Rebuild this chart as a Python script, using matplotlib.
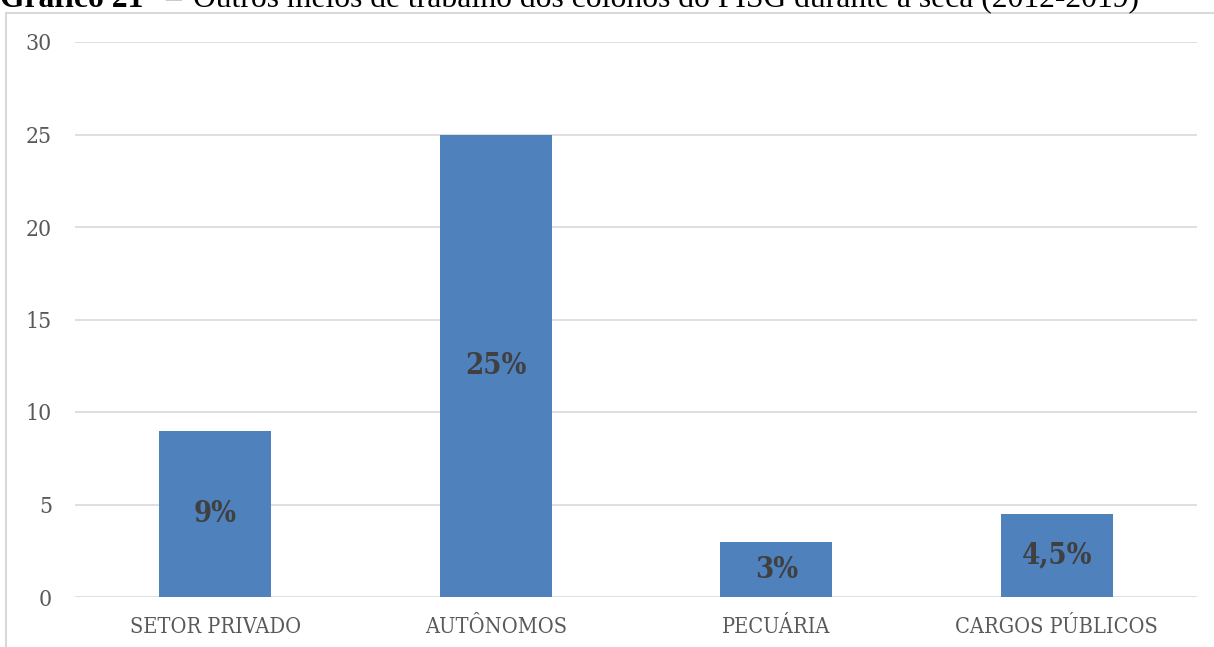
import matplotlib
matplotlib.use("Agg")
import matplotlib.pyplot as plt
from matplotlib.patches import Rectangle
from matplotlib import font_manager as fm

categories = ["SETOR PRIVADO", "AUTÔNOMOS", "PECUÁRIA", "CARGOS PÚBLICOS"]
values = [9, 25, 3, 4.5]
labels = ["9%", "25%", "3%", "4,5%"]
yticks = [0, 5, 10, 15, 20, 25, 30]


def cond_font(bold):
    for f in fm.fontManager.ttflist:
        if (f.name.startswith("DejaVu Serif") and "Condensed" in f.fname
                and f.style == "normal"
                and (("Bold" in f.fname) == bold)):
            return fm.FontProperties(fname=f.fname)
    return fm.FontProperties(family="DejaVu Serif",
                             weight="bold" if bold else "normal")


tick_font = cond_font(False)
val_font = cond_font(True)

W, H = 1214, 647
fig = plt.figure(figsize=(W / 100, H / 100), dpi=100)

# outer chart border (light gray), top and left visible
fig.patches.append(Rectangle((6 / W, -0.1), 1.2, (H - 13) / H + 0.1,
                             transform=fig.transFigure, fill=False,
                             edgecolor="#d9d9d9", linewidth=1.5))

ax = fig.add_axes([75 / W, (H - 597) / H, (1197 - 75) / W, (597 - 42) / H])
x = range(len(categories))
ax.bar(x, values, width=0.4, color="#4f81bd", zorder=3)
ax.set_xlim(-0.5, len(categories) - 0.5)
ax.set_ylim(0, 30)
ax.set_yticks(yticks)
ax.set_xticks(list(x))
ax.set_xticklabels(categories)
ax.grid(axis="y", color="#d9d9d9", linewidth=1.2, zorder=0)
for s in ax.spines.values():
    s.set_visible(False)
ax.tick_params(length=0, colors="#595959")
ax.tick_params(axis="x", pad=14)
ax.tick_params(axis="y", pad=16.5)
for t in ax.get_xticklabels():
    t.set_fontproperties(tick_font)
    t.set_fontsize(15.6)
for t in ax.get_yticklabels():
    t.set_fontproperties(tick_font)
    t.set_fontsize(16.5)

for xi, v, lab in zip(x, values, labels):
    ax.text(xi, v / 2, lab, ha="center", va="center", fontproperties=val_font,
            fontsize=21, color="#404040", zorder=4)

base = 1 - 7 / H
fig.text(0.0, base, "Gráfico 21", fontsize=22.8, fontweight="bold",
         family="Liberation Serif", ha="left", va="baseline")
fig.text(165 / W, base, "–", fontsize=22.8, family="Liberation Serif",
         ha="left", va="baseline")
fig.text(193 / W, base,
         "Outros meios de trabalho dos colonos do PISG durante a seca (2012-2019)",
         fontsize=22.8, family="Liberation Serif", ha="left", va="baseline")

fig.savefig("out.png", dpi=100)
